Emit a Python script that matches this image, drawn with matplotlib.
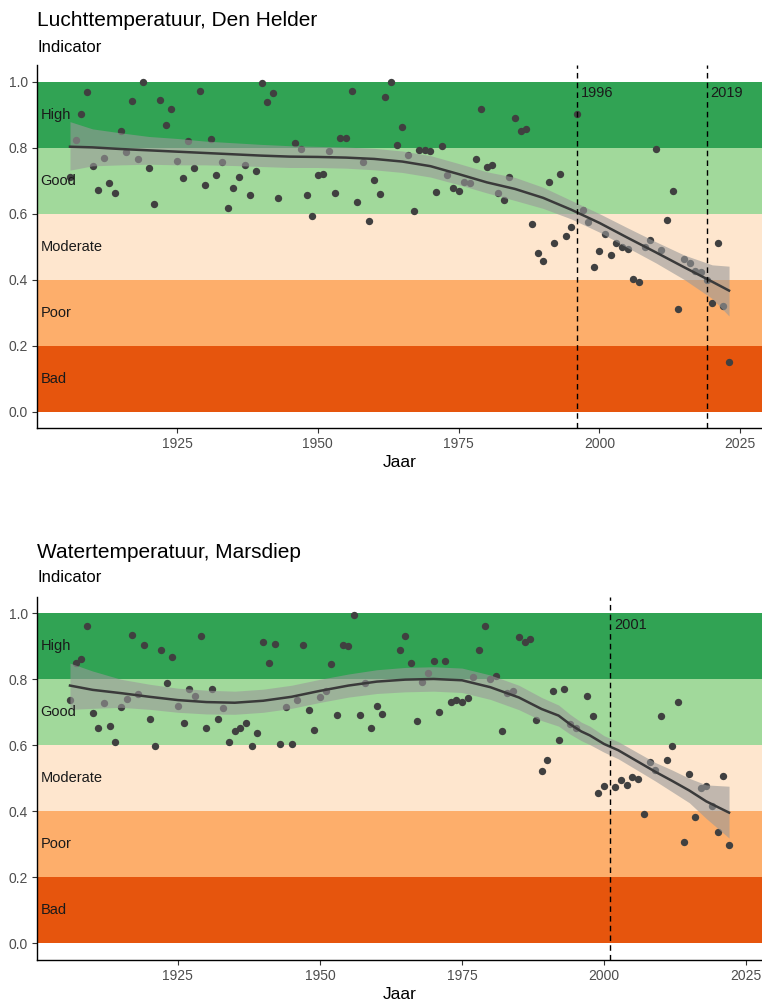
import matplotlib
matplotlib.use("Agg")
import matplotlib.pyplot as plt
import matplotlib.transforms as mtransforms

plt.rcParams['font.family'] = ['Liberation Sans', 'DejaVu Sans']

# --- Luchttemperatuur, Den Helder (no data 1944-1945)
air_years = [1906, 1907, 1908, 1909, 1910, 1911, 1912, 1913, 1914, 1915, 1916, 1917, 1918, 1919,
             1920, 1921, 1922, 1923, 1924, 1925, 1926, 1927, 1928, 1929, 1930, 1931, 1932, 1933,
             1934, 1935, 1936, 1937, 1938, 1939, 1940, 1941, 1942, 1943, 1946, 1947, 1948, 1949,
             1950, 1951, 1952, 1953, 1954, 1955, 1956, 1957, 1958, 1959, 1960, 1961, 1962, 1963,
             1964, 1965, 1966, 1967, 1968, 1969, 1970, 1971, 1972, 1973, 1974, 1975, 1976, 1977,
             1978, 1979, 1980, 1981, 1982, 1983, 1984, 1985, 1986, 1987, 1988, 1989, 1990, 1991,
             1992, 1993, 1994, 1995, 1996, 1997, 1998, 1999, 2000, 2001, 2002, 2003, 2004, 2005,
             2006, 2007, 2008, 2009, 2010, 2011, 2012, 2013, 2014, 2015, 2016, 2017, 2018, 2019,
             2020, 2021, 2022, 2023]
air_index = [0.712, 0.823, 0.902, 0.969, 0.745, 0.671, 0.770, 0.693, 0.662, 0.852, 0.786, 0.942, 0.767, 1.000,
             0.738, 0.628, 0.944, 0.868, 0.918, 0.760, 0.709, 0.819, 0.739, 0.972, 0.687, 0.826, 0.717, 0.757,
             0.617, 0.677, 0.711, 0.749, 0.656, 0.729, 0.997, 0.938, 0.967, 0.649, 0.815, 0.797, 0.656, 0.594,
             0.716, 0.719, 0.789, 0.663, 0.828, 0.828, 0.973, 0.636, 0.756, 0.577, 0.701, 0.659, 0.953, 1.000,
             0.809, 0.863, 0.777, 0.608, 0.792, 0.794, 0.791, 0.667, 0.806, 0.716, 0.678, 0.669, 0.697, 0.692,
             0.765, 0.918, 0.741, 0.747, 0.662, 0.642, 0.712, 0.891, 0.850, 0.857, 0.569, 0.482, 0.457, 0.695,
             0.511, 0.719, 0.531, 0.560, 0.903, 0.610, 0.574, 0.439, 0.486, 0.538, 0.476, 0.512, 0.500, 0.493,
             0.402, 0.392, 0.500, 0.519, 0.797, 0.489, 0.582, 0.669, 0.310, 0.462, 0.450, 0.425, 0.424, 0.399,
             0.329, 0.512, 0.321, 0.152]

# smoother
air_fit_years = [1906, 1910, 1915, 1920, 1925, 1930, 1935, 1940, 1945, 1950, 1955, 1960, 1965,
                 1970, 1975, 1980, 1985, 1990, 1995, 2000, 2005, 2010, 2015, 2020, 2023]
air_fit = [0.803, 0.801, 0.796, 0.792, 0.788, 0.784, 0.780, 0.776, 0.773, 0.772, 0.770, 0.766, 0.758,
           0.744, 0.720, 0.695, 0.675, 0.648, 0.612, 0.572, 0.527, 0.483, 0.438, 0.394, 0.367]
air_hi = [0.879, 0.857, 0.845, 0.834, 0.828, 0.820, 0.815, 0.810, 0.806, 0.804, 0.802, 0.798, 0.790,
          0.776, 0.752, 0.727, 0.710, 0.680, 0.640, 0.600, 0.557, 0.515, 0.475, 0.445, 0.441]
air_lo = [0.732, 0.745, 0.748, 0.750, 0.748, 0.748, 0.746, 0.743, 0.740, 0.740, 0.738, 0.733, 0.725,
          0.711, 0.688, 0.663, 0.640, 0.616, 0.584, 0.544, 0.497, 0.451, 0.401, 0.343, 0.290]
air_breaks = [1996, 2019]

# --- Watertemperatuur, Marsdiep (no data 1962-1963, 1996, 2001)
water_years = [1906, 1907, 1908, 1909, 1910, 1911, 1912, 1913, 1914, 1915, 1916, 1917, 1918, 1919,
               1920, 1921, 1922, 1923, 1924, 1925, 1926, 1927, 1928, 1929, 1930, 1931, 1932, 1933,
               1934, 1935, 1936, 1937, 1938, 1939, 1940, 1941, 1942, 1943, 1944, 1945, 1946, 1947,
               1948, 1949, 1950, 1951, 1952, 1953, 1954, 1955, 1956, 1957, 1958, 1959, 1960, 1961,
               1964, 1965, 1966, 1967, 1968, 1969, 1970, 1971, 1972, 1973, 1974, 1975, 1976, 1977,
               1978, 1979, 1980, 1981, 1982, 1983, 1984, 1985, 1986, 1987, 1988, 1989, 1990, 1991,
               1992, 1993, 1994, 1995, 1997, 1998, 1999, 2000, 2002, 2003, 2004, 2005, 2006, 2007,
               2008, 2009, 2010, 2011, 2012, 2013, 2014, 2015, 2016, 2017, 2018, 2019, 2020, 2021,
               2022]
water_index = [0.736, 0.850, 0.862, 0.962, 0.699, 0.653, 0.729, 0.658, 0.609, 0.715, 0.739, 0.934, 0.756, 0.905,
               0.680, 0.599, 0.890, 0.790, 0.867, 0.718, 0.668, 0.770, 0.750, 0.931, 0.651, 0.772, 0.680, 0.712,
               0.611, 0.644, 0.652, 0.667, 0.599, 0.637, 0.914, 0.850, 0.908, 0.604, 0.715, 0.604, 0.737, 0.905,
               0.707, 0.647, 0.746, 0.764, 0.846, 0.691, 0.905, 0.901, 0.994, 0.691, 0.788, 0.653, 0.720, 0.694,
               0.890, 0.930, 0.848, 0.675, 0.792, 0.820, 0.856, 0.701, 0.855, 0.730, 0.736, 0.732, 0.742, 0.808,
               0.890, 0.962, 0.800, 0.810, 0.642, 0.757, 0.766, 0.928, 0.914, 0.922, 0.677, 0.522, 0.555, 0.766,
               0.615, 0.770, 0.665, 0.651, 0.749, 0.689, 0.456, 0.478, 0.474, 0.494, 0.481, 0.504, 0.497, 0.392,
               0.550, 0.525, 0.689, 0.555, 0.598, 0.730, 0.306, 0.513, 0.384, 0.472, 0.478, 0.417, 0.338, 0.508,
               0.297]

water_fit_years = [1906, 1910, 1915, 1920, 1925, 1930, 1935, 1940, 1945, 1950, 1955, 1960, 1965, 1970,
                   1975, 1980, 1985, 1989, 1992, 1994, 1996, 1997.5, 2000, 2002.5, 2006, 2009, 2012,
                   2015, 2018, 2022]
water_fit = [0.781, 0.768, 0.758, 0.747, 0.737, 0.731, 0.729, 0.735, 0.747, 0.765, 0.781, 0.793, 0.799, 0.801,
             0.797, 0.776, 0.745, 0.710, 0.690, 0.664, 0.642, 0.630, 0.604, 0.585, 0.550, 0.520, 0.492,
             0.463, 0.430, 0.396]
water_hi = [0.849, 0.825, 0.800, 0.785, 0.773, 0.767, 0.764, 0.770, 0.782, 0.800, 0.816, 0.829, 0.836, 0.838,
            0.834, 0.813, 0.782, 0.745, 0.722, 0.694, 0.670, 0.658, 0.629, 0.611, 0.577, 0.548, 0.525,
            0.500, 0.480, 0.476]
water_lo = [0.709, 0.712, 0.715, 0.709, 0.700, 0.695, 0.694, 0.700, 0.712, 0.730, 0.746, 0.757, 0.762, 0.764,
            0.760, 0.739, 0.708, 0.675, 0.658, 0.634, 0.614, 0.602, 0.579, 0.559, 0.523, 0.492, 0.459,
            0.426, 0.378, 0.319]
water_breaks = [2001]

# classes
class_names = ['Bad', 'Poor', 'Moderate', 'Good', 'High']
class_lower = [0.0, 0.2, 0.4, 0.6, 0.8]
class_upper = [0.2, 0.4, 0.6, 0.8, 1.0]
class_colors = ['#e6550d', '#fdae6b', '#fee6ce', '#a1d99b', '#31a354']


def draw_panel(ax, years, index, fit_years, fit, lo, hi, breaks, xlim):
    trans = mtransforms.blended_transform_factory(ax.transAxes, ax.transData)
    for lo_c, hi_c, col, name in zip(class_lower, class_upper, class_colors, class_names):
        ax.axhspan(lo_c, hi_c, color=col, lw=0, zorder=0)
        ax.text(0.005, (lo_c + hi_c) / 2, name, transform=trans, ha='left', va='center',
                fontsize=10.5, color='#1a1a1a', zorder=10)
    ax.scatter(years, index, s=28, color='#404040', lw=0, zorder=2)
    ax.fill_between(fit_years, lo, hi, color='#999999', alpha=0.6, lw=0, zorder=3)
    ax.plot(fit_years, fit, color='#3a3a3a', lw=1.8, zorder=4)
    for b in breaks:
        ax.axvline(b, color='black', ls=(0, (4, 3)), lw=1.0, zorder=5)
        ax.annotate(str(b), xy=(b, 0.966), xytext=(3, 0), textcoords='offset points',
                    ha='left', va='center', fontsize=10.5, color='#1a1a1a', zorder=10)
    ax.set_xlim(xlim)
    ax.set_ylim(-0.05, 1.05)
    ax.set_xticks([1925, 1950, 1975, 2000, 2025])
    ax.set_yticks([0.0, 0.2, 0.4, 0.6, 0.8, 1.0])
    ax.set_yticklabels(['0.0', '0.2', '0.4', '0.6', '0.8', '1.0'])
    ax.spines['top'].set_visible(False)
    ax.spines['right'].set_visible(False)
    ax.spines['left'].set_linewidth(1.0)
    ax.spines['bottom'].set_linewidth(1.0)
    ax.tick_params(axis='both', length=3.5, width=0.8, color='#333333', labelsize=10,
                   labelcolor='#4d4d4d', pad=3)
    ax.set_xlabel('Jaar', fontsize=12.5, color='black', labelpad=3)


fig = plt.figure(figsize=(7.62, 10), dpi=100)

ax1 = fig.add_axes([0.0486, 0.5718, 0.9514, 0.363])
draw_panel(ax1, air_years, air_index, air_fit_years, air_fit, air_lo, air_hi, air_breaks,
           (1900.15, 2028.85))

ax2 = fig.add_axes([0.0486, 0.0402, 0.9514, 0.363])
draw_panel(ax2, water_years, water_index, water_fit_years, water_fit, water_lo, water_hi, water_breaks,
           (1900.2, 2027.8))

fig.text(0.0486, 0.980, 'Luchttemperatuur, Den Helder', fontsize=15, ha='left', va='center')
fig.text(0.0486, 0.953, 'Indicator', fontsize=12, ha='left', va='center')
fig.text(0.0486, 0.448, 'Watertemperatuur, Marsdiep', fontsize=15, ha='left', va='center')
fig.text(0.0486, 0.422, 'Indicator', fontsize=12, ha='left', va='center')

fig.savefig('out.png', dpi=100)
